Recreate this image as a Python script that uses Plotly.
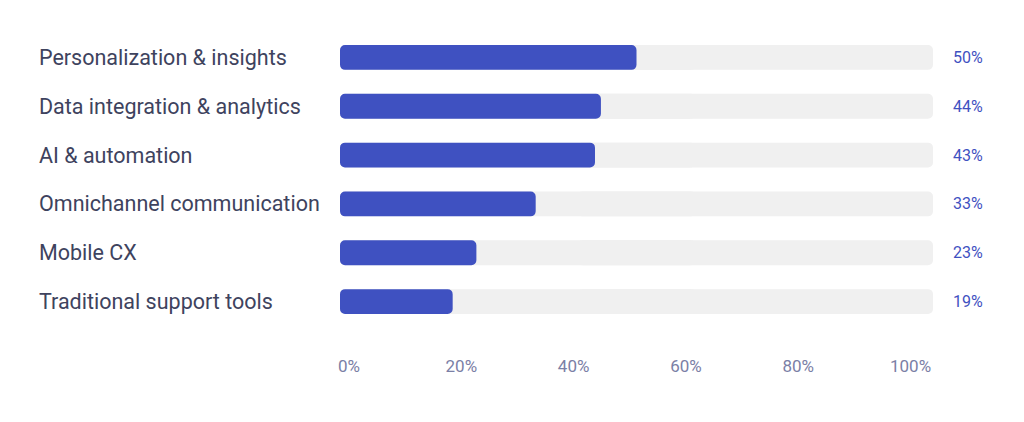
import plotly.graph_objects as go

categories = [
    "Personalization & insights",
    "Data integration & analytics",
    "AI & automation",
    "Omnichannel communication",
    "Mobile CX",
    "Traditional support tools",
]
values = [50, 44, 43, 33, 23, 19]
track_max = 100
tick_vals = [0, 20, 40, 60, 80, 100]
tick_text = ["0%", "20%", "40%", "60%", "80%", "100%"]

BLUE = "#3f51c1"
TRACK = "#f0f0f0"
LABEL = "#3e435e"
TICK = "#7b80a6"
FONT = "Roboto"
R = 5

n = len(categories)
lo_base = [track_max * 0.4] * n
hi_base = [track_max * 0.6] * n

fig = go.Figure()
# track: two overlapping halves growing outward so both outer ends are rounded
fig.add_trace(go.Bar(y=categories, x=[track_max * 0.6] * n, base=lo_base, orientation="h",
                     marker=dict(color=TRACK, cornerradius=R, line=dict(width=0)),
                     hoverinfo="skip", showlegend=False))
fig.add_trace(go.Bar(y=categories, x=[-track_max * 0.6] * n, base=hi_base, orientation="h",
                     marker=dict(color=TRACK, cornerradius=R, line=dict(width=0)),
                     hoverinfo="skip", showlegend=False))
# value bars: grow leftward from the value so the left end (at 0) is rounded, right end square
fig.add_trace(go.Bar(y=categories, x=[-v for v in values], base=values, orientation="h",
                     marker=dict(color=BLUE, cornerradius=R, line=dict(width=0)),
                     showlegend=False))
# invisible trace for the tick axis
fig.add_trace(go.Scatter(x=tick_vals, y=[categories[0]] * len(tick_vals), xaxis="x2",
                         mode="markers", marker=dict(opacity=0), hoverinfo="skip",
                         showlegend=False))

OFF = 8  # page body offset
plot_l, plot_r = 340 - OFF, 933 - OFF
plot_w = plot_r - plot_l

def px(xref_px):
    return (xref_px - OFF - plot_l) / plot_w

annotations = []
for c, v in zip(categories, values):
    annotations.append(dict(xref="paper", yref="y", x=px(37), y=c,
                            text=c, showarrow=False, xanchor="left", yanchor="middle",
                            font=dict(family=FONT, size=21.5, color=LABEL)))
    annotations.append(dict(xref="paper", yref="y", x=px(951), y=c,
                            text=f"{v}%", showarrow=False, xanchor="left", yanchor="middle",
                            font=dict(family=FONT, size=16, color=BLUE)))

fig.update_layout(
    width=1024, height=422,
    margin=dict(l=plot_l, r=1024 - plot_r, t=33 - OFF, b=96 + OFF),
    paper_bgcolor="white", plot_bgcolor="white",
    barmode="overlay", bargap=0.49,
    font=dict(family=FONT),
    xaxis=dict(range=[0, 100], showticklabels=False, showgrid=False, zeroline=False,
               showline=False, fixedrange=True),
    xaxis2=dict(overlaying="x", anchor="y", side="bottom", range=[-1.6, 104.0],
                tickvals=tick_vals, ticktext=tick_text, showgrid=False, zeroline=False,
                showline=False, ticks="", ticklabelstandoff=28,
                tickfont=dict(family=FONT, size=17, color=TICK)),
    yaxis=dict(categoryorder="array", categoryarray=categories, autorange=False,
               range=[5.5, -0.5], showticklabels=False, showgrid=False, zeroline=False,
               showline=False),
    annotations=annotations,
)

fig.write_html("out.html")
